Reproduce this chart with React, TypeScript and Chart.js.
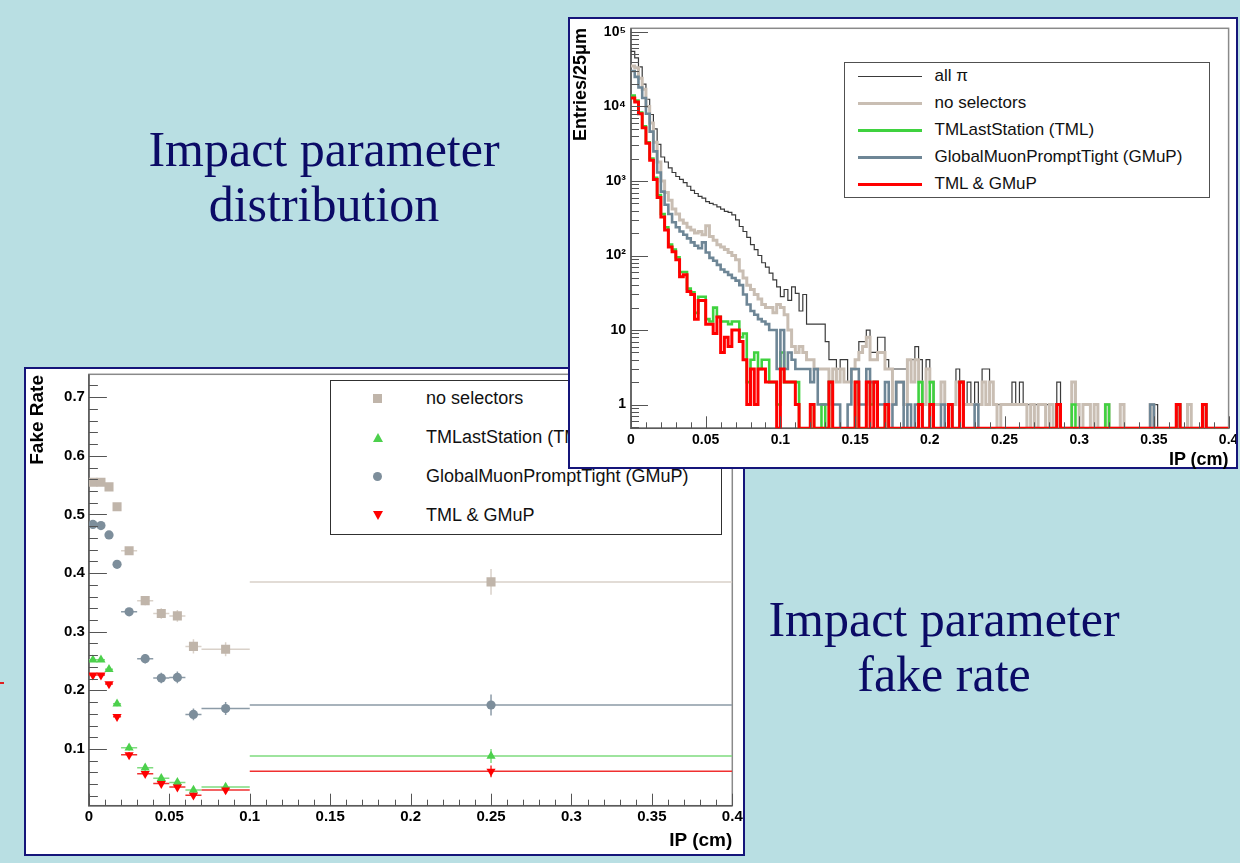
import React, { useEffect, useRef } from 'react';
import { Chart, registerables } from 'chart.js';

Chart.register(...registerables);

// ---------------- Impact parameter distribution (25 µm bins, 0 – 0.4 cm) ----------------
const BIN_WIDTH = 0.0025;

const histLabels = ['all \u03c0', 'no selectors', 'TMLastStation (TML)', 'GlobalMuonPromptTight (GMuP)', 'TML & GMuP'];

const allPi = [
  55000, 45000, 34000, 20000, 12500, 7800, 5000, 3100, 2100, 1800, 1500, 1300, 1150, 1050, 950, 850, 750, 680, 620, 590,
  530, 500, 480, 450, 420, 390, 380, 350, 300, 245, 210, 175, 140, 120, 100, 80, 70, 58, 47, 38,
  28, 35, 25, 38, 31, 18, 30, 12, 12, 12, 12, 12, 7, 4, 4, 3, 4, 4, 2, 3,
  4, 7, 7, 10, 5, 5, 8, 8, 4, 3, 3, 3, 3, 3, 4, 4, 6, 4, 1, 4,
  2, 1, 1, 2, 1, 1, 1, 3, 2, 1, 2, 1, 2, 1, 3, 3, 2, 1, 1, 1,
  1, 1, 2, 1, 2, 1, 1, 1, 1, 1, 1, 1, 1, 0, 2, 0, 0, 0, 2, 1,
  0, 1, 1, 0, 1, 0, 0, 1, 0, 0, 0, 1, 0, 0, 0, 0, 0, 0, 0, 1,
  1, 0, 0, 0, 0, 0, 1, 0, 0, 1, 0, 0, 0, 1, 0, 0, 0, 0, 0, 0,
];

const noSelectors = [
  35000, 33000, 24000, 17000, 10000, 6000, 3300, 1800, 1000, 700, 550, 420, 360, 300, 270, 240, 220, 200, 210, 190,
  250, 180, 160, 140, 130, 120, 110, 100, 88, 62, 50, 40, 35, 30, 26, 22, 20, 20, 17, 22,
  20, 16, 10, 6, 5, 6, 5, 4, 4, 3, 3, 3, 3, 2, 3, 2, 3, 2, 2, 3,
  4, 5, 6, 8, 4, 4, 5, 5, 3, 3, 1, 2, 2, 1, 4, 2, 4, 2, 1, 3,
  2, 1, 1, 2, 1, 1, 1, 2, 2, 1, 1, 1, 1, 1, 2, 1, 2, 1, 0, 1,
  1, 1, 1, 1, 1, 1, 0, 1, 0, 1, 1, 0, 1, 0, 1, 0, 0, 0, 2, 1,
  0, 1, 1, 0, 1, 0, 0, 1, 0, 0, 0, 1, 0, 0, 0, 0, 0, 0, 0, 1,
  0, 0, 0, 0, 0, 0, 1, 0, 0, 1, 0, 0, 0, 1, 0, 0, 0, 0, 0, 0,
];

const tmLastStation = [
  14000, 12000, 8300, 5400, 3300, 2000, 1100, 650, 360, 240, 140, 120, 95, 60, 60, 36, 32, 17, 28, 28,
  14, 13, 20, 15, 13, 13, 12, 13, 13, 8, 9, 2, 4, 5, 3, 4, 4, 2, 2, 1,
  5, 2, 2, 2, 2, 0, 0, 0, 1, 0, 0, 1, 0, 2, 0, 0, 0, 0, 0, 0,
  2, 0, 0, 2, 1, 2, 0, 0, 1, 0, 0, 0, 0, 0, 0, 0, 0, 2, 0, 0,
  2, 0, 0, 0, 0, 1, 0, 0, 2, 0, 0, 0, 0, 0, 0, 0, 0, 0, 0, 0,
  0, 0, 0, 0, 0, 0, 0, 0, 0, 0, 0, 0, 0, 0, 1, 0, 0, 0, 1, 0,
  0, 0, 0, 0, 0, 0, 0, 1, 0, 0, 0, 0, 0, 0, 0, 0, 0, 0, 0, 0,
  0, 0, 0, 0, 0, 0, 1, 0, 0, 0, 0, 0, 0, 1, 0, 0, 0, 0, 0, 0,
];

const globalMuonPromptTight = [
  30000, 25000, 18000, 13000, 8000, 4600, 2500, 1300, 720, 480, 360, 280, 240, 210, 190, 170, 150, 135, 125, 150,
  110, 93, 85, 75, 65, 60, 55, 50, 46, 40, 30, 22, 18, 16, 14, 13, 12, 10, 10, 3,
  10, 3, 5, 4, 3, 3, 3, 3, 2, 3, 1, 1, 1, 2, 1, 1, 0, 0, 1, 3,
  3, 1, 1, 3, 2, 2, 1, 1, 2, 0, 1, 2, 2, 0, 1, 0, 1, 1, 0, 0,
  1, 0, 0, 1, 0, 1, 0, 0, 2, 0, 0, 0, 1, 0, 0, 0, 0, 0, 0, 0,
  0, 0, 0, 0, 0, 0, 0, 0, 0, 0, 0, 0, 0, 0, 1, 0, 0, 0, 0, 0,
  0, 0, 0, 0, 0, 0, 0, 0, 0, 0, 0, 0, 0, 0, 0, 0, 0, 0, 0, 1,
  0, 0, 0, 0, 0, 0, 1, 0, 0, 0, 0, 0, 0, 1, 0, 0, 0, 0, 0, 0,
];

const tmlAndGmup = [
  13000, 11500, 8000, 5200, 3200, 1900, 1050, 600, 330, 220, 130, 112, 88, 52, 55, 33, 30, 14, 25, 25,
  12, 12, 9, 15, 5, 8, 6, 10, 10, 7, 4, 1, 3, 1, 3, 3, 2, 2, 2, 0,
  3, 2, 2, 2, 1, 0, 0, 0, 1, 0, 0, 0, 0, 2, 0, 0, 0, 0, 0, 0,
  2, 0, 0, 2, 0, 2, 0, 0, 1, 0, 0, 0, 0, 0, 0, 0, 0, 1, 0, 0,
  1, 0, 0, 0, 0, 1, 0, 0, 2, 0, 0, 0, 0, 0, 0, 0, 0, 0, 0, 0,
  0, 0, 0, 0, 0, 0, 0, 0, 0, 0, 0, 0, 0, 0, 1, 0, 0, 0, 0, 0,
  0, 0, 0, 0, 0, 0, 0, 0, 0, 0, 0, 0, 0, 0, 0, 0, 0, 0, 0, 0,
  0, 0, 0, 0, 0, 0, 1, 0, 0, 0, 0, 0, 0, 1, 0, 0, 0, 0, 0, 0,
];

const LOG_Y_MIN = 0.48;
const LOG_Y_MAX = 112000;
const logTicks = [1, 10, 100, 1000, 10000, 100000];
const logTickLabels = ['1', '10', '10\u00b2', '10\u00b3', '10\u2074', '10\u2075'];

// ---------------- Impact parameter fake rate ----------------
const rateLabels = ['no selectors', 'TMLastStation (TML)', 'GlobalMuonPromptTight (GMuP)', 'TML & GMuP'];
const rateBinCenters = [0.0025, 0.0075, 0.0125, 0.0175, 0.025, 0.035, 0.045, 0.055, 0.065, 0.085, 0.25];
const rateBinHalfWidths = [0.0025, 0.0025, 0.0025, 0.0025, 0.005, 0.005, 0.005, 0.005, 0.005, 0.015, 0.15];

const rateNoSel = [0.555, 0.555, 0.547, 0.513, 0.438, 0.353, 0.331, 0.327, 0.275, 0.27, 0.385];
const rateNoSelErr = [0.003, 0.003, 0.003, 0.004, 0.006, 0.008, 0.009, 0.01, 0.012, 0.012, 0.022];
const rateTml = [0.252, 0.252, 0.236, 0.177, 0.102, 0.068, 0.05, 0.043, 0.03, 0.035, 0.088];
const rateTmlErr = [0.003, 0.003, 0.003, 0.004, 0.005, 0.005, 0.005, 0.005, 0.005, 0.006, 0.012];
const rateGmup = [0.483, 0.481, 0.465, 0.415, 0.334, 0.254, 0.221, 0.222, 0.159, 0.169, 0.175];
const rateGmupErr = [0.003, 0.003, 0.003, 0.004, 0.006, 0.008, 0.009, 0.01, 0.01, 0.011, 0.018];
const rateBoth = [0.226, 0.226, 0.211, 0.155, 0.09, 0.058, 0.041, 0.035, 0.021, 0.03, 0.062];
const rateBothErr = [0.003, 0.003, 0.003, 0.004, 0.005, 0.005, 0.005, 0.005, 0.005, 0.006, 0.01];

const RATE_Y_MIN = 0.0033;
const RATE_Y_MAX = 0.739;
const rateTicks = [0.1, 0.2, 0.3, 0.4, 0.5, 0.6, 0.7];
const rateTickLabels = ['0.1', '0.2', '0.3', '0.4', '0.5', '0.6', '0.7'];

const ipTicks = [0, 0.05, 0.1, 0.15, 0.2, 0.25, 0.3, 0.35, 0.4];
const ipTickLabels = ['0', '0.05', '0.1', '0.15', '0.2', '0.25', '0.3', '0.35', '0.4'];

// ---------------- styling ----------------
const BG = '#b9dfe3';
const NAVY = '#15157a';
const TEXT_NAVY = '#0b0b66';
const SANS = '"Liberation Sans", Arial, Helvetica, sans-serif';
const SERIF = '"Liberation Serif", "Times New Roman", serif';

const histColors = ['#3a3a3a', '#c9beb3', '#3fd23f', '#6e8696', '#ff0000'];
const histWidths = [1.2, 3, 2.6, 2.6, 3];
const histOrder = [5, 4, 3, 2, 1];

const rateColors = ['#c0b5aa', '#4cd04c', '#7d8e9b', '#ff0000'];
const rateErrColors = ['#d9d1c9', '#7fdc7f', '#8c9ba7', '#f03030'];

function rangeTicks(a: number, b: number, step: number) {
  const out: number[] = [];
  for (let i = 0; a + i * step <= b + 1e-9; i++) out.push(+(a + i * step).toFixed(6));
  return out;
}

function makeAxisPlugin(cfg: {
  xMajor: number[]; xMinor: number[]; yMajor: number[]; yMinor: number[];
  xMajorLen: number; xMinorLen: number; yMajorLen: number; yMinorLen: number;
}) {
  return {
    id: 'rootAxes',
    beforeDatasetsDraw(chart: any) {
      const { ctx, chartArea: a } = chart;
      ctx.save();
      ctx.strokeStyle = '#8a8a8a';
      ctx.lineWidth = 1.5;
      ctx.strokeRect(a.left, a.top, a.right - a.left, a.bottom - a.top);
      ctx.strokeStyle = '#5a5a5a';
      ctx.lineWidth = 1.6;
      ctx.beginPath();
      ctx.moveTo(a.left, a.top);
      ctx.lineTo(a.left, a.bottom);
      ctx.lineTo(a.right, a.bottom);
      ctx.stroke();
      ctx.restore();
    },
    afterDatasetsDraw(chart: any) {
      const { ctx, chartArea: a, scales } = chart;
      const x = scales.x;
      const y = scales.y;
      ctx.save();
      ctx.strokeStyle = '#555';
      ctx.lineWidth = 1;
      ctx.beginPath();
      const xt = (vals: number[], len: number) => vals.forEach((v) => {
        const px = Math.round(x.getPixelForValue(v)) + 0.5;
        ctx.moveTo(px, a.bottom);
        ctx.lineTo(px, a.bottom - len);
      });
      const yt = (vals: number[], len: number) => vals.forEach((v) => {
        const py = Math.round(y.getPixelForValue(v)) + 0.5;
        if (py < a.top - 1 || py > a.bottom + 1) return;
        ctx.moveTo(a.left, py);
        ctx.lineTo(a.left + len, py);
      });
      xt(cfg.xMinor, cfg.xMinorLen);
      xt(cfg.xMajor, cfg.xMajorLen);
      yt(cfg.yMinor, cfg.yMinorLen);
      yt(cfg.yMajor, cfg.yMajorLen);
      ctx.stroke();
      ctx.restore();
    },
  };
}

const errorBarPlugin = {
  id: 'errorBars',
  beforeDatasetsDraw(chart: any) {
    const { ctx, chartArea: a, scales } = chart;
    const x = scales.x;
    const y = scales.y;
    ctx.save();
    ctx.beginPath();
    ctx.rect(a.left, a.top, a.right - a.left, a.bottom - a.top);
    ctx.clip();
    chart.data.datasets.forEach((ds: any) => {
      ctx.strokeStyle = ds.errColor;
      ctx.lineWidth = 1.5;
      ctx.beginPath();
      ds.data.forEach((p: any) => {
        const px = x.getPixelForValue(p.x);
        const py = y.getPixelForValue(p.y);
        ctx.moveTo(x.getPixelForValue(p.x - p.xerr), py);
        ctx.lineTo(x.getPixelForValue(p.x + p.xerr), py);
        ctx.moveTo(px, y.getPixelForValue(p.y - p.yerr));
        ctx.lineTo(px, y.getPixelForValue(p.y + p.yerr));
      });
      ctx.stroke();
    });
    ctx.restore();
  },
};

function histPoints(vals: number[]) {
  const pts = vals.map((v, i) => ({ x: i * BIN_WIDTH, y: v > 0 ? v : LOG_Y_MIN }));
  pts.push({ x: vals.length * BIN_WIDTH, y: pts[pts.length - 1].y });
  return pts;
}

function ratePoints(vals: number[], errs: number[]) {
  return vals.map((v, i) => ({ x: rateBinCenters[i], y: v, xerr: rateBinHalfWidths[i], yerr: errs[i] }));
}

const tickFont = (size: number) => ({ family: SANS, size, weight: 'bold' as const });

// ---------------- distribution panel ----------------
const DIST_W = 666;
const DIST_H = 448;

function DistributionPanel() {
  const ref = useRef<HTMLCanvasElement>(null);
  useEffect(() => {
    if (!ref.current) return;
    const series = [allPi, noSelectors, tmLastStation, globalMuonPromptTight, tmlAndGmup];
    const logMinor: number[] = [];
    for (let e = -1; e <= 5; e++) {
      for (let m = 2; m <= 9; m++) {
        const v = m * Math.pow(10, e);
        if (v > LOG_Y_MIN && v < LOG_Y_MAX) logMinor.push(v);
      }
    }
    const chart = new Chart(ref.current, {
      type: 'line',
      data: {
        datasets: series.map((vals, i) => ({
          label: histLabels[i],
          data: histPoints(vals),
          borderColor: histColors[i],
          borderWidth: histWidths[i],
          stepped: 'before',
          pointRadius: 0,
          fill: false,
          tension: 0,
          order: histOrder[i],
        })),
      },
      options: {
        animation: false,
        responsive: false,
        maintainAspectRatio: false,
        events: [],
        layout: { autoPadding: false, padding: { left: 0, top: 9.3, right: 7.4, bottom: 0 } },
        plugins: { legend: { display: false }, tooltip: { enabled: false } },
        scales: {
          x: {
            type: 'linear',
            min: 0,
            max: 0.4,
            grid: { display: false, drawTicks: false },
            border: { display: false },
            ticks: {
              font: tickFont(14),
              color: '#000',
              padding: 3,
              maxRotation: 0,
              autoSkip: false,
              callback: (_v: any, idx: number) => ipTickLabels[idx],
            },
            afterBuildTicks: (s: any) => { s.ticks = ipTicks.map((v) => ({ value: v })); },
            afterFit: (s: any) => { s.height = 38.7; s.paddingLeft = 0; s.paddingRight = 0; },
          },
          y: {
            type: 'logarithmic',
            min: LOG_Y_MIN,
            max: LOG_Y_MAX,
            grid: { display: false, drawTicks: false },
            border: { display: false },
            ticks: {
              font: tickFont(14),
              color: '#000',
              padding: 5,
              autoSkip: false,
              callback: (_v: any, idx: number) => logTickLabels[idx],
            },
            afterBuildTicks: (s: any) => { s.ticks = logTicks.map((v) => ({ value: v })); },
            afterFit: (s: any) => { s.width = 61; s.paddingTop = 0; s.paddingBottom = 0; },
          },
        },
      } as any,
      plugins: [
        makeAxisPlugin({
          xMajor: ipTicks, xMinor: rangeTicks(0, 0.4, 0.01),
          yMajor: logTicks, yMinor: logMinor,
          xMajorLen: 12, xMinorLen: 6, yMajorLen: 17, yMinorLen: 8,
        }),
      ],
    });
    return () => chart.destroy();
  }, []);

  return (
    <div style={{
      position: 'absolute', left: 568, top: 17, width: DIST_W + 4, height: DIST_H + 4,
      boxSizing: 'border-box', border: `2px solid ${NAVY}`, background: '#fff', zIndex: 2,
    }}>
      <canvas ref={ref} width={DIST_W} height={DIST_H} style={{ position: 'absolute', left: 0, top: 0, width: DIST_W, height: DIST_H }} />
      <div style={{
        position: 'absolute', left: 1, top: 209, width: 200, height: 18, lineHeight: '18px',
        transformOrigin: 'left top', transform: 'rotate(-90deg)', textAlign: 'right',
        fontFamily: SANS, fontWeight: 'bold', fontSize: 18, color: '#000', whiteSpace: 'nowrap',
      }}>Entries/25μm</div>
      <div style={{
        position: 'absolute', right: 7.4, top: 431, lineHeight: '18px',
        fontFamily: SANS, fontWeight: 'bold', fontSize: 18, color: '#000', whiteSpace: 'nowrap',
      }}>IP (cm)</div>
      <div style={{
        position: 'absolute', left: 273.5, top: 42.7, width: 366.5, height: 136.3,
        boxSizing: 'border-box', border: '1.5px solid #505050', background: '#fff',
      }}>
        {histLabels.map((lab, i) => (
          <div key={lab} style={{ position: 'absolute', left: 0, top: 13.8 + i * 27 - 12, height: 24, width: '100%' }}>
            <div style={{
              position: 'absolute', left: 13.5, top: 12 - histWidths[i] / 2, width: 64,
              height: histWidths[i], background: histColors[i],
            }} />
            <div style={{
              position: 'absolute', left: 90, top: 0, lineHeight: '24px', fontFamily: SANS,
              fontSize: 17, color: '#111', whiteSpace: 'nowrap',
            }}>{lab}</div>
          </div>
        ))}
      </div>
    </div>
  );
}

// ---------------- fake-rate panel ----------------
const RATE_W = 717;
const RATE_H = 485;

function LegendMarker({ i }: { i: number }) {
  const c = rateColors[i];
  if (i === 0) return <div style={{ width: 9, height: 9, background: c }} />;
  if (i === 2) return <div style={{ width: 9, height: 9, background: c, borderRadius: '50%' }} />;
  if (i === 1) {
    return <div style={{ width: 0, height: 0, borderLeft: '5px solid transparent', borderRight: '5px solid transparent', borderBottom: `9px solid ${c}` }} />;
  }
  return <div style={{ width: 0, height: 0, borderLeft: '5px solid transparent', borderRight: '5px solid transparent', borderTop: `9px solid ${c}` }} />;
}

function FakeRatePanel() {
  const ref = useRef<HTMLCanvasElement>(null);
  useEffect(() => {
    if (!ref.current) return;
    const vals = [rateNoSel, rateTml, rateGmup, rateBoth];
    const errs = [rateNoSelErr, rateTmlErr, rateGmupErr, rateBothErr];
    const styles = ['rect', 'triangle', 'circle', 'triangle'];
    const radii = [6.4, 5.3, 4.6, 5.3];
    const rotations = [0, 0, 0, 180];
    const chart = new Chart(ref.current, {
      type: 'scatter',
      data: {
        datasets: vals.map((v, i) => ({
          label: rateLabels[i],
          data: ratePoints(v, errs[i]),
          pointStyle: styles[i],
          pointRadius: radii[i],
          pointRotation: rotations[i],
          backgroundColor: rateColors[i],
          borderColor: rateColors[i],
          borderWidth: 0,
          pointBorderWidth: 0,
          showLine: false,
          errColor: rateErrColors[i],
          order: 4 - i,
        })),
      },
      options: {
        animation: false,
        responsive: false,
        maintainAspectRatio: false,
        events: [],
        layout: { autoPadding: false, padding: { left: 0, top: 5.3, right: 10.7, bottom: 0 } },
        plugins: { legend: { display: false }, tooltip: { enabled: false } },
        scales: {
          x: {
            type: 'linear',
            min: 0,
            max: 0.4,
            grid: { display: false, drawTicks: false },
            border: { display: false },
            ticks: {
              font: tickFont(15),
              color: '#000',
              padding: 2,
              maxRotation: 0,
              autoSkip: false,
              callback: (_v: any, idx: number) => ipTickLabels[idx],
            },
            afterBuildTicks: (s: any) => { s.ticks = ipTicks.map((v) => ({ value: v })); },
            afterFit: (s: any) => { s.height = 48.3; s.paddingLeft = 0; s.paddingRight = 0; },
          },
          y: {
            type: 'linear',
            min: RATE_Y_MIN,
            max: RATE_Y_MAX,
            grid: { display: false, drawTicks: false },
            border: { display: false },
            ticks: {
              font: tickFont(15),
              color: '#000',
              padding: 4,
              autoSkip: false,
              callback: (_v: any, idx: number) => rateTickLabels[idx],
            },
            afterBuildTicks: (s: any) => { s.ticks = rateTicks.map((v) => ({ value: v })); },
            afterFit: (s: any) => { s.width = 62.9; s.paddingTop = 0; s.paddingBottom = 0; },
          },
        },
      } as any,
      plugins: [
        makeAxisPlugin({
          xMajor: ipTicks, xMinor: rangeTicks(0, 0.4, 0.01),
          yMajor: rateTicks, yMinor: rangeTicks(0.02, 0.72, 0.02),
          xMajorLen: 12, xMinorLen: 6, yMajorLen: 18, yMinorLen: 9,
        }),
        errorBarPlugin,
      ],
    });
    return () => chart.destroy();
  }, []);

  return (
    <div style={{
      position: 'absolute', left: 24, top: 367, width: RATE_W + 4, height: RATE_H + 4,
      boxSizing: 'border-box', border: `2px solid ${NAVY}`, background: '#fff', zIndex: 1,
    }}>
      <canvas ref={ref} width={RATE_W} height={RATE_H} style={{ position: 'absolute', left: 0, top: 0, width: RATE_W, height: RATE_H }} />
      <div style={{
        position: 'absolute', left: 1, top: 206, width: 200, height: 19, lineHeight: '19px',
        transformOrigin: 'left top', transform: 'rotate(-90deg)', textAlign: 'right',
        fontFamily: SANS, fontWeight: 'bold', fontSize: 19, color: '#000', whiteSpace: 'nowrap',
      }}>Fake Rate</div>
      <div style={{
        position: 'absolute', right: 10.7, top: 461, lineHeight: '19px',
        fontFamily: SANS, fontWeight: 'bold', fontSize: 19, color: '#000', whiteSpace: 'nowrap',
      }}>IP (cm)</div>
      <div style={{
        position: 'absolute', left: 303.6, top: 10.7, width: 392.4, height: 155.6,
        boxSizing: 'border-box', border: '1.5px solid #303030', background: '#fff',
      }}>
        {rateLabels.map((lab, i) => (
          <div key={lab} style={{ position: 'absolute', left: 0, top: 17.8 + i * 39 - 12, height: 24, width: '100%' }}>
            <div style={{ position: 'absolute', left: 42.7, top: 7.5 }}>
              <LegendMarker i={i} />
            </div>
            <div style={{
              position: 'absolute', left: 95.5, top: 0, lineHeight: '24px', fontFamily: SANS,
              fontSize: 18, color: '#111', whiteSpace: 'nowrap',
            }}>{lab}</div>
          </div>
        ))}
      </div>
    </div>
  );
}

// ---------------- slide ----------------
function SlideText({ lines, centerX, top }: { lines: string[]; centerX: number; top: number }) {
  return (
    <div style={{
      position: 'absolute', left: centerX - 260, top, width: 520, textAlign: 'center',
      fontFamily: SERIF, fontSize: 50, lineHeight: '55px', color: TEXT_NAVY, whiteSpace: 'nowrap',
    }}>
      {lines.map((l) => <div key={l}>{l}</div>)}
    </div>
  );
}

export default function App() {
  useEffect(() => {
    document.body.style.margin = '0';
  }, []);
  return (
    <div style={{ position: 'absolute', left: 0, top: 0, width: 1240, height: 863, background: BG, overflow: 'hidden' }}>
      <SlideText lines={['Impact parameter', 'distribution']} centerX={324} top={122.3} />
      <SlideText lines={['Impact parameter', 'fake rate']} centerX={944} top={592.3} />
      <div style={{ position: 'absolute', left: 0, top: 682, width: 4, height: 1.5, background: '#e02020' }} />
      <FakeRatePanel />
      <DistributionPanel />
    </div>
  );
}
